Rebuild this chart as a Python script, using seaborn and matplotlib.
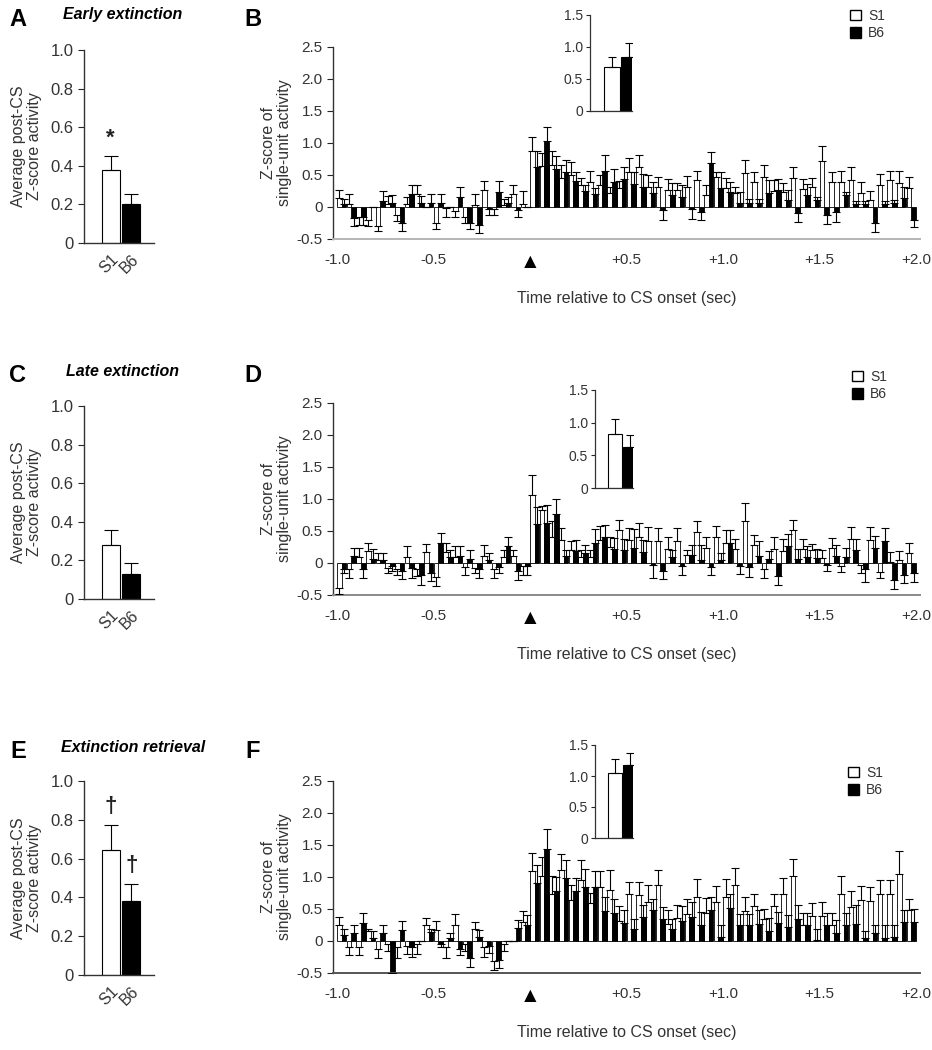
import numpy as np
import pandas as pd
import seaborn as sns
import matplotlib.pyplot as plt
from matplotlib.patches import Patch

# ---------------- data ----------------
strains = ['S1', 'B6']
bin_ms = np.arange(-1000, 2000, 50)   # 60 bins of 50 ms, CS onset at 0

# A / C / E : average post-CS z-score (mean, sem)
early_avg, early_avg_err = [0.38, 0.20], [0.07, 0.056]
late_avg, late_avg_err = [0.28, 0.13], [0.075, 0.055]
retr_avg, retr_avg_err = [0.645, 0.38], [0.13, 0.09]

# insets (first post-CS bin)
early_peak, early_peak_err = [0.69, 0.84], [0.16, 0.22]
late_peak, late_peak_err = [0.83, 0.62], [0.22, 0.19]
retr_peak, retr_peak_err = [1.05, 1.17], [0.22, 0.20]

# B : early extinction
early_s1 = [0.14, 0.05, -0.15, -0.2, -0.3, 0.05, -0.12, 0.05, 0.2, 0.0, -0.25, -0.02, -0.06, -0.15, 0.03, 0.26, -0.03, 0.03, 0.2, 0.05,
            0.88, 0.64, 0.65, 0.45, 0.5, 0.35, 0.39, 0.35, 0.22, 0.3,
            0.55, 0.63, 0.32, 0.32, 0.27, 0.27, 0.32, 0.42, 0.19, 0.47,
            0.3, 0.22, 0.53, 0.39, 0.47, 0.25, 0.24, 0.45, 0.28, 0.31,
            0.72, 0.39, 0.39, 0.42, 0.22, 0.11, 0.35, 0.42, 0.37, 0.3]
early_s1_err = [0.13, 0.15, 0.13, 0.1, 0.08, 0.12, 0.1, 0.1, 0.15, 0.0, 0.1, 0.13, 0.1, 0.1, 0.17, 0.14, 0.1, 0.1, 0.14, 0.2,
                0.22, 0.2, 0.22, 0.2, 0.2, 0.1, 0.18, 0.15, 0.1, 0.1,
                0.21, 0.19, 0.18, 0.15, 0.17, 0.11, 0.17, 0.15, 0.15, 0.08,
                0.15, 0.1, 0.2, 0.16, 0.19, 0.17, 0.14, 0.18, 0.15, 0.15,
                0.23, 0.15, 0.18, 0.2, 0.17, 0.14, 0.16, 0.14, 0.2, 0.17]
early_b6 = [0.04, -0.17, -0.15, 0.0, 0.1, 0.07, -0.25, 0.2, 0.07, 0.06, 0.07, 0.0, 0.15, -0.25, -0.28, -0.03, 0.24, 0.06, -0.05, 0.0,
            0.63, 1.03, 0.6, 0.55, 0.4, 0.25, 0.2, 0.57, 0.39, 0.44,
            0.36, 0.32, 0.22, -0.04, 0.19, 0.15, -0.03, -0.08, 0.68, 0.3,
            0.24, 0.06, 0.07, 0.07, 0.22, 0.26, 0.11, -0.1, 0.19, 0.11,
            -0.13, -0.08, 0.19, 0.05, 0.05, -0.25, 0.05, 0.06, 0.14, -0.2]
early_b6_err = [0.08, 0.13, 0.13, 0.0, 0.15, 0.11, 0.13, 0.15, 0.1, 0.14, 0.13, 0.0, 0.17, 0.1, 0.12, 0.1, 0.16, 0.1, 0.1, 0.0,
                0.25, 0.22, 0.2, 0.18, 0.15, 0.1, 0.1, 0.25, 0.2, 0.19,
                0.18, 0.2, 0.17, 0.16, 0.19, 0.19, 0.15, 0.12, 0.18, 0.24,
                0.15, 0.18, 0.05, 0.05, 0.2, 0.17, 0.15, 0.14, 0.17, 0.05,
                0.13, 0.16, 0.05, 0.05, 0.05, 0.14, 0.05, 0.05, 0.18, 0.11]

# D : late extinction
late_s1 = [-0.39, -0.1, 0.1, 0.18, 0.05, -0.08, -0.09, 0.09, -0.1, 0.17, -0.22, 0.17, 0.1, -0.06, -0.08, 0.11, -0.1, 0.1, 0.11, -0.05,
           1.06, 0.83, 0.41, 0.36, 0.2, 0.1, 0.1, 0.36, 0.25, 0.51,
           0.36, 0.4, 0.34, 0.34, 0.22, 0.35, 0.13, 0.48, 0.24, 0.41,
           0.31, 0.22, 0.66, 0.28, -0.1, 0.22, 0.18, 0.51, 0.22, 0.21,
           0.08, 0.23, -0.04, 0.37, -0.03, 0.36, -0.14, 0.02, 0.05, 0.16]
late_s1_err = [0.1, 0.13, 0.13, 0.14, 0.1, 0.07, 0.1, 0.18, 0.11, 0.12, 0.14, 0.15, 0.16, 0.13, 0.08, 0.17, 0.13, 0.1, 0.1, 0.13,
               0.31, 0.06, 0.24, 0.18, 0.14, 0.1, 0.1, 0.22, 0.15, 0.16,
               0.18, 0.23, 0.23, 0.2, 0.19, 0.19, 0.08, 0.18, 0.17, 0.17,
               0.2, 0.15, 0.27, 0.15, 0.14, 0.19, 0.2, 0.16, 0.15, 0.08,
               0.12, 0.16, 0.1, 0.2, 0.12, 0.21, 0.1, 0.15, 0.14, 0.15]
late_b6 = [-0.09, 0.11, -0.09, 0.07, 0.05, -0.05, -0.13, -0.08, -0.18, -0.15, 0.32, 0.1, 0.11, 0.06, -0.09, 0.05, -0.06, 0.26, -0.13, -0.05,
           0.61, 0.62, 0.76, 0.11, 0.18, 0.15, 0.32, 0.4, 0.22, 0.2,
           0.23, 0.17, -0.03, -0.13, 0.1, -0.05, 0.12, 0.05, -0.06, 0.04,
           0.32, -0.05, -0.06, 0.11, 0.06, -0.2, 0.27, 0.07, 0.09, 0.08,
           -0.03, 0.11, 0.09, 0.2, -0.1, 0.24, 0.35, -0.26, -0.18, -0.15]
late_b6_err = [0.07, 0.13, 0.14, 0.15, 0.1, 0.08, 0.12, 0.15, 0.17, 0.13, 0.15, 0.1, 0.16, 0.15, 0.15, 0.1, 0.1, 0.14, 0.13, 0.13,
               0.27, 0.28, 0.24, 0.1, 0.18, 0.13, 0.21, 0.2, 0.17, 0.17,
               0.3, 0.19, 0.2, 0.12, 0.1, 0.13, 0.16, 0.23, 0.13, 0.11,
               0.19, 0.12, 0.16, 0.24, 0.13, 0.15, 0.18, 0.15, 0.17, 0.14,
               0.1, 0.17, 0.14, 0.17, 0.2, 0.18, 0.2, 0.15, 0.13, 0.15]

# F : extinction retrieval
retr_s1 = [0.25, -0.1, -0.1, 0.16, -0.12, -0.05, -0.1, -0.08, -0.05, 0.25, 0.17, -0.1, 0.25, -0.05, 0.18, -0.1, -0.32, -0.05, 0.0, 0.3,
           1.1, 1.01, 0.74, 1.11, 0.64, 0.96, 0.6, 0.85, 0.8, 0.31,
           0.74, 0.72, 0.61, 0.87, 0.27, 0.36, 0.42, 0.69, 0.43, 0.61,
           0.69, 0.87, 0.47, 0.54, 0.35, 0.55, 0.73, 1.01, 0.25, 0.39,
           0.39, 0.25, 0.74, 0.53, 0.64, 0.63, 0.74, 0.74, 1.04, 0.48]
retr_s1_err = [0.13, 0.12, 0.12, 0.03, 0.15, 0.1, 0.17, 0.12, 0.15, 0.11, 0.14, 0.17, 0.17, 0.1, 0.12, 0.15, 0.13, 0.1, 0.0, 0.17,
               0.28, 0.3, 0.27, 0.25, 0.23, 0.3, 0.15, 0.25, 0.31, 0.23,
               0.18, 0.2, 0.26, 0.24, 0.21, 0.2, 0.24, 0.28, 0.24, 0.25,
               0.28, 0.27, 0.21, 0.2, 0.15, 0.19, 0.26, 0.27, 0.19, 0.21,
               0.22, 0.18, 0.27, 0.25, 0.22, 0.22, 0.21, 0.21, 0.36, 0.18]
retr_b6 = [0.1, 0.12, 0.28, 0.05, 0.12, -0.5, 0.17, -0.1, 0.0, 0.14, -0.05, 0.05, -0.12, -0.27, 0.07, -0.08, -0.3, 0.0, 0.21, 0.25,
           0.91, 1.44, 0.78, 0.99, 0.78, 0.85, 0.85, 0.47, 0.43, 0.28,
           0.18, 0.37, 0.49, 0.35, 0.18, 0.31, 0.38, 0.25, 0.48, 0.06,
           0.52, 0.25, 0.25, 0.27, 0.15, 0.28, 0.22, 0.35, 0.25, 0.02,
           0.25, 0.12, 0.25, 0.26, 0.05, 0.12, 0.05, 0.06, 0.3, 0.3]
retr_b6_err = [0.08, 0.13, 0.15, 0.1, 0.13, 0.0, 0.15, 0.15, 0.0, 0.05, 0.05, 0.08, 0.1, 0.13, 0.1, 0.1, 0.12, 0.0, 0.12, 0.15,
               0.27, 0.31, 0.22, 0.27, 0.2, 0.27, 0.25, 0.22, 0.23, 0.2,
               0.17, 0.19, 0.17, 0.18, 0.17, 0.23, 0.23, 0.21, 0.2, 0.19,
               0.22, 0.17, 0.17, 0.22, 0.21, 0.17, 0.18, 0.21, 0.19, 0.16,
               0.18, 0.21, 0.18, 0.3, 0.1, 0.13, 0.2, 0.19, 0.18, 0.2]

tick_times = [-1.0, -0.5, 0.0, 0.5, 1.0, 1.5, 2.0]
tick_text = ['-1.0', '-0.5', '\u25B2', '+0.5', '+1.0', '+1.5', '+2.0']

# ---------------- plotting ----------------
sns.set_style('ticks')
plt.rcParams['font.family'] = ['Liberation Sans', 'DejaVu Sans']
ink = '#222222'
colors = {'S1': 'white', 'B6': 'black'}

W, H = 932, 1050
fig = plt.figure(figsize=(W / 100, H / 100), dpi=100)


def rect(l, t, r, b):
    return [l / W, 1 - b / H, (r - l) / W, (b - t) / H]


def ftext(x, y, s, **kw):
    fig.text(x / W, 1 - y / H, s, va='center', color=kw.pop('color', ink), **kw)


def one_sided_err(ax, xs, ys, errs, cap):
    ys = np.asarray(ys, float)
    errs = np.asarray(errs, float)
    lo = np.where(ys < 0, errs, 0)
    hi = np.where(ys < 0, 0, errs)
    ax.errorbar(xs, ys, yerr=[lo, hi], fmt='none', ecolor='black',
                elinewidth=0.8, capsize=cap, capthick=0.8, zorder=3)


def style_axes(ax, lw=1.0):
    sns.despine(ax=ax)
    for s in ['left', 'bottom']:
        ax.spines[s].set_color('#333333')
        ax.spines[s].set_linewidth(lw)


def avg_panel(box, means, errs, marks):
    ax = fig.add_axes(rect(*box))
    df = pd.DataFrame({'strain': strains, 'z': means})
    sns.barplot(data=df, x='strain', y='z', hue='strain', palette=colors,
                width=0.86, edgecolor='black', linewidth=0.8, errorbar=None,
                legend=False, ax=ax)
    one_sided_err(ax, [0, 1], means, errs, 5)
    for i, m in enumerate(marks):
        if m:
            ax.text(i, means[i] + errs[i] + 0.04, m, ha='center', va='bottom',
                    fontsize=16, fontweight='bold', color=ink)
    ax.set_xlim(-1.29, 2.1)
    ax.set_ylim(0, 1.0)
    ax.set_yticks(np.arange(0, 1.01, 0.2))
    ax.set_yticklabels(['0', '0.2', '0.4', '0.6', '0.8', '1.0'])
    ax.tick_params(axis='y', length=4, width=0.8, labelsize=12, labelcolor='#333333')
    ax.tick_params(axis='x', length=0, pad=6, labelsize=11.5, labelcolor='#333333')
    plt.setp(ax.get_xticklabels(), rotation=45, ha='right', rotation_mode='anchor')
    ax.set_xlabel('')
    ax.set_ylabel('Average post-CS\nZ-score activity', fontsize=11.5, color='#333333',
                  linespacing=1.05)
    ax.yaxis.set_label_coords(-0.6, 0.5)
    style_axes(ax)
    return ax


def inset_panel(box, means, errs):
    ax = fig.add_axes(rect(*box))
    df = pd.DataFrame({'strain': strains, 'z': means})
    sns.barplot(data=df, x='strain', y='z', hue='strain', palette=colors,
                width=0.92, edgecolor='black', linewidth=0.8, errorbar=None,
                legend=False, ax=ax)
    one_sided_err(ax, [0, 1], means, errs, 3)
    ax.set_xlim(-1.3, 1.2)
    ax.set_ylim(0, 1.5)
    ax.set_yticks([0, 0.5, 1.0, 1.5])
    ax.set_yticklabels(['0', '0.5', '1.0', '1.5'])
    ax.set_xticks([])
    ax.set_xlabel('')
    ax.set_ylabel('')
    ax.tick_params(axis='y', length=3, width=0.8, labelsize=10, pad=2, labelcolor='#333333')
    style_axes(ax, 0.9)
    return ax


def psth_panel(box, s1, s1_err, b6, b6_err, xaxis_color):
    ax = fig.add_axes(rect(*box))
    df = pd.DataFrame({'bin': np.tile(bin_ms, 2), 'z': s1 + b6,
                       'strain': np.repeat(strains, len(bin_ms))})
    sns.barplot(data=df, x='bin', y='z', hue='strain', hue_order=strains,
                palette=colors, width=0.96, edgecolor='black', linewidth=0.6,
                errorbar=None, legend=False, ax=ax)
    bars = list(ax.containers[:2])
    for cont, vals, errs in zip(bars, [s1, b6], [s1_err, b6_err]):
        xs = [p.get_x() + p.get_width() / 2 for p in cont]
        one_sided_err(ax, xs, vals, errs, 2.6)
    ax.set_xlim(-0.91, len(bin_ms) - 1 + 0.91)
    ax.set_ylim(-0.5, 2.5)
    ax.set_yticks(np.arange(-0.5, 2.51, 0.5))
    ax.set_yticklabels(['-0.5', '0', '0.5', '1.0', '1.5', '2.0', '2.5'])
    pos = (np.array(tick_times) * 1000 - bin_ms[0]) / 50 - 0.5
    ax.set_xticks(pos)
    ax.set_xticklabels(tick_text)
    ax.tick_params(axis='x', length=0, pad=10, labelsize=11, labelcolor='#333333')
    ax.tick_params(axis='y', length=4, width=0.8, labelsize=11, labelcolor='#333333')
    arrow = ax.get_xticklabels()[2]
    arrow.set_color('black')
    arrow.set_fontsize(15)
    ax.set_xlabel('Time relative to CS onset (sec)', fontsize=11.5, color='#333333')
    ax.xaxis.set_label_coords(0.5, -0.27)
    ax.set_ylabel('Z-score of\nsingle-unit activity', fontsize=11.5, color='#333333',
                  linespacing=1.05)
    ax.yaxis.set_label_coords(-0.07, 0.5)
    style_axes(ax)
    ax.spines['bottom'].set_color(xaxis_color)
    ax.spines['bottom'].set_linewidth(1.4)
    return ax


def legend(x, y):
    handles = [Patch(facecolor='white', edgecolor='black', linewidth=1.0),
               Patch(facecolor='black', edgecolor='black')]
    fig.legend(handles, strains, loc='upper left', bbox_to_anchor=(x / W, 1 - y / H),
               frameon=False, fontsize=10, handlelength=0.8, handleheight=0.8,
               handletextpad=0.5, labelspacing=0.25, borderpad=0, borderaxespad=0,
               labelcolor='#333333')


rows = [
    dict(avg=(84, 50, 154, 243), psth=(333, 47, 920, 239), inset=(590, 15, 632, 111),
         leg=(850, 9), letters=('A', 'B', 20), title=('Early extinction', 123, 15),
         data=(early_avg, early_avg_err, ['*', ''], early_peak, early_peak_err,
               early_s1, early_s1_err, early_b6, early_b6_err), xc='#b5b5b5'),
    dict(avg=(84, 406, 154, 599), psth=(333, 403, 920, 595), inset=(595, 390, 633, 488),
         leg=(852, 370), letters=('C', 'D', 375), title=('Late extinction', 122, 372),
         data=(late_avg, late_avg_err, ['', ''], late_peak, late_peak_err,
               late_s1, late_s1_err, late_b6, late_b6_err), xc='#8a8a8a'),
    dict(avg=(84, 781, 154, 975), psth=(333, 781, 920, 973), inset=(595, 745, 633, 838),
         leg=(848, 766), letters=('E', 'F', 752), title=('Extinction retrieval', 133, 747),
         data=(retr_avg, retr_avg_err, ['\u2020', '\u2020'], retr_peak, retr_peak_err,
               retr_s1, retr_s1_err, retr_b6, retr_b6_err), xc='#555555'),
]

for r in rows:
    avg, avg_err, marks, peak, peak_err, s1, s1e, b6, b6e = r['data']
    avg_panel(r['avg'], avg, avg_err, marks)
    psth_panel(r['psth'], s1, s1e, b6, b6e, r['xc'])
    inset_panel(r['inset'], peak, peak_err)
    legend(*r['leg'])
    l1, l2, ly = r['letters']
    ftext(18, ly, l1, fontsize=17, fontweight='bold', ha='center', color='black')
    ftext(253, ly, l2, fontsize=17, fontweight='bold', ha='center', color='black')
    t, tx, ty = r['title']
    ftext(tx, ty, t, fontsize=11.5, fontweight='bold', fontstyle='italic', ha='center',
          color='black')

fig.savefig('out.png', dpi=100, facecolor='white')
